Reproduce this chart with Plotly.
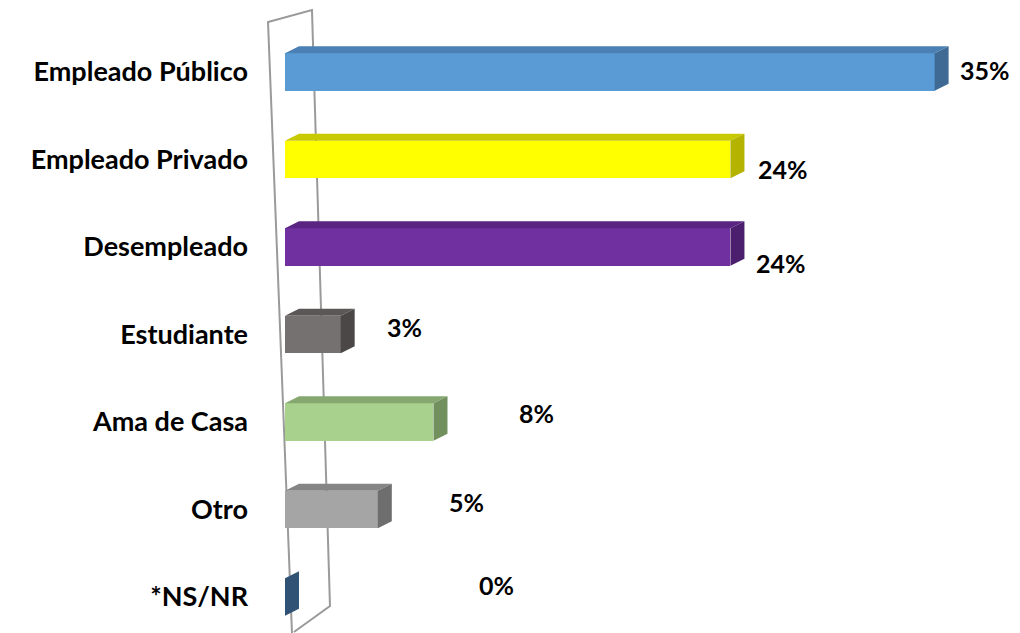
import plotly.graph_objects as go

categories = ["Empleado Público", "Empleado Privado", "Desempleado", "Estudiante",
              "Ama de Casa", "Otro", "*NS/NR"]
values = [35, 24, 24, 3, 8, 5, 0]
value_labels = ["35%", "24%", "24%", "3%", "8%", "5%", "0%"]

# styling (kept apart from data)
front_colors = ["#5B9BD5", "#FFFF00", "#7030A0", "#767171", "#A9D18E", "#A5A5A5", "#3C6590"]
top_colors = ["#4A80B4", "#C9C900", "#5A2582", "#5B5757", "#86A770", "#858585", "#345A80"]
side_colors = ["#3E6A94", "#B3B300", "#4C1F6E", "#4B4747", "#71905E", "#6E6E6E", "#2F5275"]
label_xshift_px = [9, 12, 10, 30, 70, 55, 178]
label_yshift_px = [2, -9, -16, 8, 9, 8, 12]

FONT = "Lato"
px_per_unit_x = 18.57
px_per_unit_y = 87.5
dx = 14 / px_per_unit_x   # depth in x units
dy = 7 / px_per_unit_y    # depth in y units
h = 0.43                  # bar thickness

fig = go.Figure()

fig.add_trace(go.Bar(
    x=values, y=list(range(len(categories))), orientation="h",
    width=h, marker=dict(color=front_colors, line=dict(width=0)),
    hoverinfo="skip", showlegend=False,
))

for i, v in enumerate(values):
    top = i - h / 2
    bot = i + h / 2
    fig.add_trace(go.Scatter(
        x=[0, v, v + dx, dx, 0], y=[top, top, top - dy, top - dy, top],
        fill="toself", fillcolor=top_colors[i], mode="lines",
        line=dict(width=0, color=top_colors[i]), hoverinfo="skip", showlegend=False))
    fig.add_trace(go.Scatter(
        x=[v, v + dx, v + dx, v, v], y=[top, top - dy, bot - dy, bot, top],
        fill="toself", fillcolor=side_colors[i], mode="lines",
        line=dict(width=0, color=side_colors[i]), hoverinfo="skip", showlegend=False))

for i, (v, lab) in enumerate(zip(values, value_labels)):
    fig.add_annotation(x=v + dx, y=i, text=f"<b>{lab}</b>", showarrow=False,
                       xanchor="left", xshift=label_xshift_px[i], yshift=label_yshift_px[i],
                       font=dict(family=FONT, size=25, color="#000000"))

# wall frame (behind the bars)
fig.add_shape(type="path", xref="paper", yref="paper", layer="below",
              path="M 0.0095,-0.0081 L -0.0231,0.9806 L 0.0367,1.0 L 0.0612,0.0356 L 0.0122,-0.0065",
              line=dict(color="#9A9A9A", width=2))

fig.update_layout(
    width=1020, height=633,
    margin=dict(l=285, r=0, t=10, b=5),
    paper_bgcolor="white", plot_bgcolor="rgba(0,0,0,0)",
    bargap=0,
    xaxis=dict(range=[0, 39.6], visible=False, fixedrange=True),
    yaxis=dict(range=[6.354, -0.709], tickmode="array",
               tickvals=list(range(len(categories))),
               ticktext=[f"<b>{c}</b>" for c in categories],
               tickfont=dict(family=FONT, size=27, color="#000000"),
               ticklabelstandoff=36, showgrid=False, zeroline=False,
               showline=False, ticks="", fixedrange=True),
)

fig.write_html("out.html", config={"displayModeBar": False},
               post_script="document.body.style.margin='0';")
